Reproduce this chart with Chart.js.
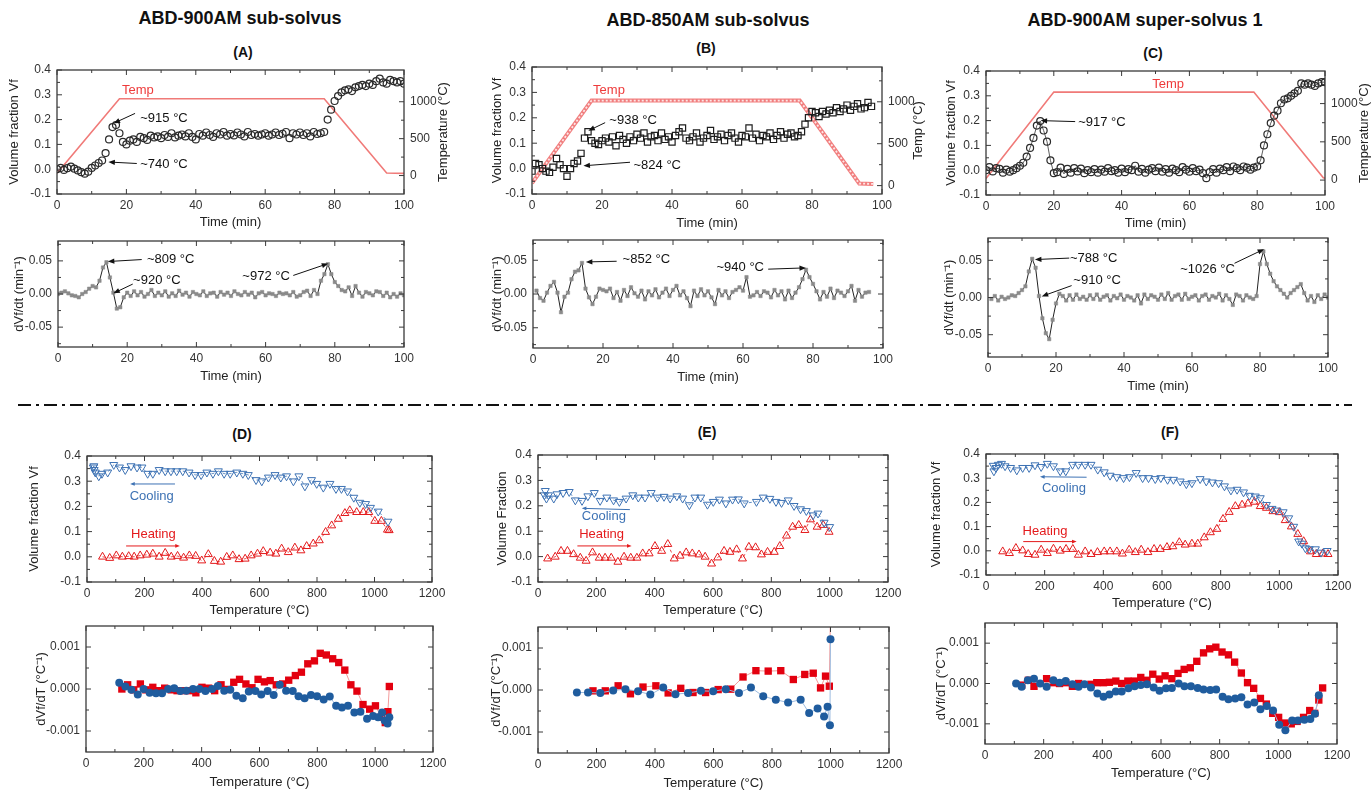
<!DOCTYPE html>
<html lang="en">
<head>
<meta charset="UTF-8">
<title>Volume fraction evolution</title>
<script src="https://cdn.jsdelivr.net/npm/chart.js"></script>
<style>
  body { margin: 0; background: #fff; font-family: "Liberation Sans", Arial, sans-serif; }
  #page { position: relative; width: 1371px; height: 791px; overflow: hidden; }
  canvas { position: absolute; }
  .head { position: absolute; transform: translate(-50%, -50%); font-weight: bold; font-size: 18px; color: #111; white-space: nowrap; }
  .tag { position: absolute; transform: translate(-50%, -50%); font-weight: bold; font-size: 14px; color: #111; }
  svg { position: absolute; left: 0; top: 0; }
</style>
</head>
<body>
<div id="page">
  <div class="head" style="left:240px;top:18px">ABD-900AM sub-solvus</div>
  <div class="head" style="left:708px;top:20px">ABD-850AM sub-solvus</div>
  <div class="head" style="left:1145px;top:20px">ABD-900AM super-solvus 1</div>
  <div class="tag" style="left:243px;top:52px">(A)</div>
  <div class="tag" style="left:706px;top:48px">(B)</div>
  <div class="tag" style="left:1153px;top:53px">(C)</div>
  <div class="tag" style="left:242px;top:434px">(D)</div>
  <div class="tag" style="left:707px;top:432px">(E)</div>
  <div class="tag" style="left:1170px;top:432px">(F)</div>
  <svg width="1371" height="791"><line x1="18" y1="405" x2="1352" y2="405" stroke="#111" stroke-width="2" stroke-dasharray="13 5 3 5"/></svg>
  <canvas id="cA1"></canvas><canvas id="cA2"></canvas>
  <canvas id="cB1"></canvas><canvas id="cB2"></canvas>
  <canvas id="cC1"></canvas><canvas id="cC2"></canvas>
  <canvas id="cD1"></canvas><canvas id="cD2"></canvas>
  <canvas id="cE1"></canvas><canvas id="cE2"></canvas>
  <canvas id="cF1"></canvas><canvas id="cF2"></canvas>
</div>

<script>
// ---------- tick labels ----------
const timeTicks = [0, 20, 40, 60, 80, 100];
const tempTicks = [0, 200, 400, 600, 800, 1000, 1200];
const vfTicks = [-0.1, 0, 0.1, 0.2, 0.3, 0.4];
const rateTicks = [-0.05, 0, 0.05];
const slopeTicks = [-0.001, 0, 0.001];
const furnaceTicks = [0, 500, 1000];

// ---------- (A) ABD-900AM sub-solvus, sampled every minute ----------
const vfA = [
  0.000, 0.005, -0.003, 0.004, 0.010, 0.002, -0.005, -0.012, -0.018, -0.010,
  0.005, 0.015, 0.025, 0.035, 0.065, 0.120, 0.170, 0.178, 0.145, 0.110,
  0.100, 0.115, 0.120, 0.110, 0.130, 0.125, 0.118, 0.135, 0.128, 0.132,
  0.125, 0.138, 0.130, 0.145, 0.128, 0.135, 0.140, 0.132, 0.145, 0.130,
  0.120, 0.142, 0.135, 0.148, 0.138, 0.130, 0.145, 0.140, 0.150, 0.135,
  0.142, 0.136, 0.148, 0.140, 0.132, 0.150, 0.138, 0.142, 0.135, 0.140,
  0.145, 0.135, 0.140, 0.148, 0.138, 0.143, 0.150, 0.125, 0.145, 0.140,
  0.148, 0.138, 0.145, 0.132, 0.150, 0.142, 0.145, 0.150, 0.200, 0.240,
  0.275, 0.295, 0.310, 0.318, 0.322, 0.315, 0.330, 0.335, 0.340, 0.335,
  0.345, 0.340, 0.355, 0.365, 0.350, 0.345, 0.360, 0.355, 0.350, 0.355, 0.345
];
const rateA = [
  0.000, 0.002, 0.004, 0.001, -0.002, -0.003, -0.005, 0.000, 0.003, 0.008,
  0.012, 0.010, 0.020, 0.040, 0.048, 0.025, 0.002, -0.022, -0.020, -0.005,
  0.002, -0.003, 0.004, -0.002, 0.003, -0.004, 0.000, 0.006, -0.003, 0.002,
  -0.002, 0.004, -0.004, 0.001, -0.003, 0.005, -0.001, 0.002, -0.004, 0.003,
  0.000, -0.002, 0.004, -0.003, 0.001, 0.002, -0.004, 0.003, -0.001, 0.002,
  -0.003, 0.004, 0.000, -0.002, 0.003, -0.001, 0.002, -0.005, 0.001, 0.003,
  -0.002, 0.001, 0.000, -0.003, 0.002, 0.000, 0.001, -0.002, 0.003, -0.004,
  -0.002, 0.003, 0.005, -0.003, 0.006, 0.000, 0.020, 0.030, 0.045, 0.030,
  0.018, 0.012, 0.006, 0.004, 0.010, -0.003, 0.012, 0.002, -0.004, 0.003,
  0.001, -0.002, 0.004, 0.003, -0.003, 0.002, -0.005, 0.000, -0.004, 0.001, -0.002
];
const furnaceA_t = [0, 18, 77, 95, 100];
const furnaceA_T = [30, 1040, 1040, 35, 30];

// ---------- (B) ABD-850AM sub-solvus ----------
const vfB = [
  -0.010, 0.020, 0.015, 0.000, -0.010, -0.015, 0.005, 0.040, 0.015, 0.000,
  -0.030, 0.000, 0.020, 0.030, 0.060, 0.120, 0.145, 0.110, 0.100, 0.095,
  0.110, 0.120, 0.105, 0.125, 0.090, 0.130, 0.115, 0.100, 0.125, 0.110,
  0.135, 0.120, 0.140, 0.105, 0.125, 0.130, 0.110, 0.140, 0.115, 0.125,
  0.105, 0.130, 0.145, 0.160, 0.120, 0.110, 0.125, 0.140, 0.105, 0.120,
  0.130, 0.150, 0.115, 0.125, 0.135, 0.110, 0.130, 0.140, 0.120, 0.105,
  0.130, 0.125, 0.160, 0.120, 0.135, 0.110, 0.130, 0.125, 0.140, 0.115,
  0.130, 0.145, 0.120, 0.135, 0.140, 0.125, 0.130, 0.145, 0.175, 0.200,
  0.225, 0.220, 0.205, 0.225, 0.215, 0.230, 0.220, 0.240, 0.225, 0.235,
  0.250, 0.230, 0.245, 0.255, 0.235, 0.240, 0.260, 0.245
];
const rateB = [
  0.005, -0.006, -0.010, 0.002, 0.012, 0.018, 0.002, -0.027, -0.004, 0.002,
  0.022, 0.033, 0.035, 0.046, 0.008, -0.005, -0.015, -0.004, 0.008, 0.006,
  0.004, 0.008, -0.006, 0.003, -0.010, 0.006, -0.003, 0.010, 0.001, -0.004,
  0.005, -0.008, 0.004, -0.002, 0.007, -0.005, 0.002, 0.008, -0.003, 0.006,
  0.012, -0.002, 0.004, -0.006, -0.018, 0.005, -0.003, 0.007, -0.002, 0.004,
  -0.005, -0.015, 0.006, -0.002, 0.004, -0.006, 0.003, 0.006, 0.010, 0.005,
  0.025, -0.004, -0.002, 0.003, -0.003, 0.004, 0.002, -0.005, 0.006, -0.002,
  0.004, -0.008, 0.005, -0.006, 0.002, 0.010, 0.022, 0.036, 0.025, 0.015,
  0.004, -0.008, 0.003, -0.004, 0.008, -0.006, 0.005, 0.002, -0.003, 0.004,
  0.012, -0.010, 0.006, -0.004, 0.002, 0.003
];
const furnaceB_t = [0, 17, 76.5, 93.5, 97.5];
const furnaceB_T = [30, 1015, 1015, 25, 20];

// ---------- (C) ABD-900AM super-solvus 1 ----------
const vfC = [
  0.000, 0.012, -0.005, 0.008, 0.005, -0.010, 0.002, -0.006, 0.000, 0.008,
  0.018, 0.030, 0.055, 0.090, 0.130, 0.180, 0.198, 0.160, 0.115, 0.040,
  -0.012, -0.008, 0.010, -0.015, 0.005, -0.010, 0.008, -0.005, 0.006, -0.012,
  0.000, -0.008, 0.004, -0.010, 0.002, -0.006, 0.008, -0.004, 0.000, -0.010,
  0.006, -0.008, 0.004, 0.000, 0.018, -0.006, 0.005, -0.010, 0.002, 0.008,
  -0.004, 0.010, -0.006, 0.004, -0.010, 0.006, 0.000, -0.008, 0.012, 0.002,
  -0.006, 0.008, -0.004, 0.002, -0.012, -0.032, -0.008, 0.004, -0.010, 0.006,
  0.000, 0.012, -0.004, 0.015, 0.008, 0.000, 0.015, 0.010, 0.002, 0.010,
  0.015, 0.040, 0.100, 0.145, 0.190, 0.220, 0.240, 0.270, 0.285, 0.290,
  0.300, 0.310, 0.320, 0.350, 0.345, 0.350, 0.345, 0.340, 0.350, 0.355, 0.355
];
const rateC = [
  -0.002, 0.002, -0.004, 0.001, -0.002, 0.000, 0.003, 0.002, 0.006, 0.010,
  0.015, 0.035, 0.052, 0.040, 0.002, -0.028, -0.048, -0.056, -0.030, -0.008,
  0.005, 0.002, -0.004, 0.003, -0.003, 0.004, -0.002, 0.001, -0.003, 0.003,
  -0.002, 0.004, -0.003, 0.001, 0.003, -0.004, 0.002, -0.001, 0.004, -0.003,
  0.002, 0.000, -0.004, 0.003, -0.008, 0.004, -0.002, 0.003, 0.001, -0.003,
  0.004, -0.002, 0.006, -0.003, 0.002, 0.004, -0.003, 0.005, -0.002, 0.001,
  0.003, -0.004, 0.002, 0.004, -0.003, 0.002, 0.000, 0.005, -0.004, 0.003,
  -0.002, -0.010, 0.004, 0.002, -0.004, 0.003, 0.000, -0.002, 0.002, 0.045,
  0.062, 0.045, 0.032, 0.022, 0.015, 0.010, 0.005, 0.000, 0.006, 0.010,
  0.014, 0.018, 0.006, -0.004, 0.002, -0.006, 0.003, -0.002, 0.004, 0.000
];
const furnaceC_t = [0, 20, 79, 99.5, 100];
const furnaceC_T = [20, 1150, 1150, 30, 25];

// ---------- (D) ----------
const coolD_T = [22, 24, 25, 29, 41, 52, 72, 93, 113, 133, 153, 174, 191, 211, 229, 251, 272, 292, 312, 333, 355, 376, 397, 417, 438, 457, 477, 498, 521, 542, 561, 588, 608, 631, 654, 674, 694, 718, 737, 758, 781, 799, 822, 845, 866, 885, 906, 928, 949, 969, 986, 1013, 1047];
const coolD_vf = [0.355, 0.360, 0.345, 0.335, 0.320, 0.330, 0.335, 0.365, 0.355, 0.345, 0.360, 0.355, 0.355, 0.330, 0.330, 0.345, 0.340, 0.340, 0.340, 0.340, 0.335, 0.325, 0.325, 0.335, 0.330, 0.340, 0.330, 0.330, 0.335, 0.330, 0.325, 0.305, 0.300, 0.315, 0.325, 0.315, 0.320, 0.300, 0.320, 0.280, 0.305, 0.290, 0.275, 0.290, 0.270, 0.270, 0.260, 0.235, 0.215, 0.210, 0.195, 0.180, 0.140];
const heatD_T = [54, 79, 102, 123, 145, 164, 185, 208, 229, 251, 272, 293, 315, 336, 356, 378, 399, 422, 443, 465, 486, 507, 529, 550, 571, 593, 613, 637, 657, 677, 700, 723, 744, 764, 787, 808, 830, 851, 874, 897, 914, 938, 961, 980, 1001, 1024, 1045, 1051];
const heatD_vf = [0.000, -0.005, 0.005, 0.000, 0.002, 0.000, 0.005, 0.008, 0.012, 0.000, 0.015, 0.000, 0.003, -0.004, 0.005, 0.003, -0.015, 0.010, -0.017, -0.020, -0.001, 0.005, -0.010, -0.008, 0.005, 0.012, 0.022, 0.016, 0.012, 0.032, 0.018, 0.036, 0.025, 0.042, 0.052, 0.065, 0.098, 0.124, 0.150, 0.173, 0.184, 0.177, 0.177, 0.177, 0.142, 0.142, 0.107, 0.105];
const heatD2_T = [124, 144, 165, 188, 207, 231, 251, 272, 295, 315, 338, 358, 380, 401, 424, 445, 467, 488, 511, 531, 553, 574, 595, 617, 637, 658, 680, 701, 724, 745, 767, 790, 810, 831, 853, 874, 895, 916, 937, 958, 981, 1001, 1021, 1035, 1044, 1049];
const heatD2_s = [0.0, 0.0001, -0.00002, 0.00012, -0.00002, 0.00004, -0.00004, 0.00002, -0.00002, -0.00004, -0.00004, -0.00004, -0.00009, 0.00004, 0.00002, -0.00004, 0.0001, -0.00001, 0.00016, 0.00023, 0.00012, 0.00003, 0.00023, 0.00017, 0.0002, 0.0001, 0.00012, 0.00021, 0.00032, 0.0004, 0.0006, 0.00067, 0.00085, 0.00081, 0.00072, 0.00063, 0.00045, 0.0001, -0.00005, -0.00037, -0.00048, -0.0004, -0.00067, -0.0008, -0.00054, 0.00006];
const coolD2_T = [115, 136, 157, 179, 199, 220, 242, 263, 284, 305, 326, 347, 370, 392, 413, 436, 456, 478, 499, 520, 542, 563, 586, 606, 628, 649, 670, 692, 715, 735, 756, 778, 799, 822, 843, 865, 885, 906, 928, 949, 972, 993, 1010, 1024, 1033, 1043, 1049];
const coolD2_s = [0.00015, 0.00006, -0.00002, -0.00013, 0.0, -0.00009, -0.0001, -0.0001, 0.0, 0.00002, -0.00005, -0.00004, 0.0, 0.0, -0.00005, 0.0, 0.00007, -0.00004, -0.00002, -0.00016, -0.00022, -0.00006, -0.00005, -0.00013, -0.00005, -0.00014, 0.0001, -0.00004, -0.00005, -0.00017, -0.00022, -0.00014, -0.00017, -0.00025, -0.00018, -0.0004, -0.00044, -0.0004, -0.00056, -0.00054, -0.00071, -0.00064, -0.00067, -0.00056, -0.00075, -0.00082, -0.00067];

// ---------- (E) ----------
const coolE_T = [22, 25, 29, 36, 54, 65, 86, 107, 128, 151, 171, 193, 213, 236, 259, 279, 302, 325, 344, 367, 388, 409, 432, 453, 476, 496, 519, 538, 558, 581, 601, 622, 644, 667, 687, 707, 749, 772, 795, 816, 835, 858, 878, 900, 920, 943, 960, 981, 1000];
const coolE_vf = [0.242, 0.259, 0.229, 0.242, 0.229, 0.246, 0.251, 0.255, 0.222, 0.220, 0.238, 0.251, 0.220, 0.233, 0.222, 0.216, 0.229, 0.242, 0.233, 0.233, 0.251, 0.233, 0.236, 0.229, 0.238, 0.229, 0.203, 0.233, 0.233, 0.205, 0.216, 0.225, 0.210, 0.225, 0.226, 0.210, 0.216, 0.233, 0.228, 0.216, 0.212, 0.222, 0.200, 0.187, 0.180, 0.163, 0.170, 0.134, 0.117];
const heatE_T = [33, 59, 79, 101, 122, 145, 165, 187, 210, 230, 251, 274, 295, 318, 339, 359, 381, 401, 424, 445, 467, 487, 508, 529, 552, 573, 595, 616, 638, 658, 681, 701, 723, 746, 766, 787, 810, 829, 852, 873, 894, 915, 934, 957, 978, 998];
const heatE_vf = [-0.008, -0.001, 0.022, 0.022, 0.009, -0.005, -0.017, 0.016, -0.005, -0.005, -0.005, -0.021, -0.001, -0.005, -0.005, 0.012, 0.012, 0.041, 0.022, 0.049, -0.008, 0.003, 0.016, 0.012, 0.008, -0.001, -0.028, -0.004, 0.022, 0.018, 0.028, -0.008, 0.038, 0.036, 0.008, 0.018, 0.018, 0.041, 0.082, 0.117, 0.124, 0.104, 0.146, 0.117, 0.124, 0.097];
const heatE2_T = [188, 230, 274, 316, 359, 403, 445, 488, 530, 573, 616, 659, 701, 745, 787, 830, 873, 912, 941, 966, 983, 996, 1000];
const heatE2_s = [-0.00002, -0.00002, 0.0001, -0.00009, 0.00007, 0.0001, -0.00007, 0.00004, -0.00006, -0.00006, 0.00001, 0.00002, 0.00031, 0.00046, 0.00045, 0.00046, 0.00025, 0.00037, 0.0004, 0.00005, 0.00033, 0.00009, 0.0019];
const coolE2_T = [133, 171, 213, 257, 299, 342, 384, 428, 470, 513, 557, 599, 642, 687, 728, 770, 813, 855, 898, 927, 956, 978, 990, 998, 1000];
const coolE2_s = [-0.00006, -0.00006, -0.00007, -0.00001, 0.00002, -0.00003, -0.00011, 0.00006, -0.0001, -0.00007, -0.00002, -0.00003, 0.00002, -0.00007, 0.00006, -0.00015, -0.00023, -0.0003, -0.00023, -0.00055, -0.00044, -0.00063, -0.0004, -0.00084, 0.00121];

// ---------- (F) ----------
const coolF_T = [25, 27, 34, 42, 53, 65, 84, 105, 125, 147, 167, 188, 209, 230, 253, 272, 295, 315, 338, 358, 381, 403, 423, 446, 469, 489, 512, 534, 554, 577, 596, 619, 639, 662, 683, 702, 730, 751, 772, 793, 813, 835, 856, 878, 898, 918, 935, 956, 975, 992, 1013, 1032, 1049, 1066, 1077, 1089, 1102, 1123, 1142, 1163];
const coolF_vf = [0.352, 0.329, 0.343, 0.356, 0.360, 0.350, 0.343, 0.333, 0.343, 0.343, 0.354, 0.347, 0.360, 0.350, 0.329, 0.329, 0.356, 0.356, 0.356, 0.356, 0.336, 0.325, 0.311, 0.305, 0.301, 0.305, 0.322, 0.301, 0.301, 0.297, 0.301, 0.294, 0.294, 0.287, 0.276, 0.280, 0.297, 0.287, 0.283, 0.280, 0.267, 0.250, 0.253, 0.242, 0.228, 0.225, 0.218, 0.190, 0.174, 0.167, 0.160, 0.135, 0.100, 0.039, 0.030, 0.011, 0.007, 0.007, -0.007, 0.000];
const heatF_T = [57, 80, 102, 125, 144, 167, 188, 209, 230, 253, 273, 296, 315, 338, 358, 380, 403, 423, 446, 465, 488, 509, 529, 552, 573, 594, 617, 637, 659, 679, 702, 722, 744, 765, 787, 808, 829, 850, 873, 893, 915, 935, 956, 978, 1000, 1020, 1041, 1063, 1083, 1106, 1126, 1148, 1166];
const heatF_vf = [-0.003, -0.010, 0.011, 0.001, -0.014, -0.017, 0.004, -0.010, 0.008, 0.000, 0.007, 0.007, -0.017, -0.003, -0.014, -0.006, -0.003, -0.003, -0.003, -0.012, 0.004, -0.006, 0.004, -0.006, 0.007, 0.007, 0.015, 0.018, 0.035, 0.025, 0.029, 0.029, 0.055, 0.076, 0.090, 0.131, 0.160, 0.184, 0.190, 0.195, 0.202, 0.184, 0.177, 0.163, 0.159, 0.126, 0.100, 0.069, 0.039, -0.003, -0.014, -0.012, -0.014];
const heatF2_T = [125, 148, 167, 210, 233, 254, 275, 298, 319, 361, 381, 404, 424, 446, 466, 487, 509, 531, 552, 572, 594, 614, 637, 658, 679, 700, 722, 745, 766, 787, 808, 830, 851, 874, 895, 916, 939, 959, 981, 1001, 1022, 1044, 1064, 1086, 1107, 1124, 1138, 1151];
const heatF2_s = [-0.00004, 0.00008, -0.00007, 0.00012, 0.00002, 0.0, 0.00002, -0.00007, 0.0, -0.00002, 0.00002, 0.00002, 0.00003, 0.00006, 0.0, 0.00006, 0.00006, 0.00015, 0.00008, 0.00023, 0.00011, 0.00019, 0.00012, 0.00025, 0.00035, 0.00039, 0.00055, 0.00076, 0.00086, 0.0009, 0.00078, 0.00071, 0.00053, 0.00026, 0.00002, -0.00012, -0.00037, -0.00051, -0.00074, -0.00084, -0.00098, -0.001, -0.00094, -0.00084, -0.00067, -0.00074, -0.00041, -0.00011];
const coolF2_T = [106, 125, 146, 167, 188, 210, 233, 254, 275, 298, 319, 339, 361, 383, 404, 424, 446, 466, 489, 510, 531, 552, 575, 595, 617, 637, 660, 680, 702, 725, 745, 768, 788, 810, 830, 853, 874, 895, 918, 939, 961, 982, 1003, 1024, 1047, 1067, 1089, 1109, 1125, 1138];
const coolF2_s = [0.0, -0.00008, 0.00008, 0.00012, 0.0, -0.00008, 0.00008, 0.00002, 0.00006, -0.00002, -0.00008, -0.00002, -0.0001, -0.00025, -0.00033, -0.00027, -0.0002, -0.0002, -0.00012, -0.00007, -0.00004, -0.00002, -0.0001, -0.00018, -0.00012, -0.00011, 0.0, -0.00007, -0.00007, -0.00011, -0.00015, -0.00016, -0.00015, -0.00033, -0.00039, -0.00037, -0.00034, -0.00052, -0.00047, -0.00064, -0.00056, -0.00067, -0.00102, -0.00116, -0.00092, -0.00092, -0.0009, -0.00088, -0.00075, -0.00029];

// ---------- helpers ----------
const RED = '#e41a1c', BLUE = '#3d72b4', TEMP = '#f07a78';
const pairs = (xs, ys) => xs.map((x, i) => ({ x, y: ys[i] }));
const sampled = (vals, t0, dt) => vals.map((v, i) => ({ x: t0 + i * dt, y: v }));

Chart.defaults.font.family = '"Liberation Sans", Arial, sans-serif';
Chart.defaults.color = '#333';

function arrow(ctx, x1, y1, x2, y2, color, head) {
  const a = Math.atan2(y2 - y1, x2 - x1);
  ctx.strokeStyle = color; ctx.fillStyle = color; ctx.lineWidth = 1;
  ctx.beginPath(); ctx.moveTo(x1, y1);
  ctx.lineTo(x2 - Math.cos(a) * head * 0.7, y2 - Math.sin(a) * head * 0.7); ctx.stroke();
  ctx.beginPath(); ctx.moveTo(x2, y2);
  ctx.lineTo(x2 - head * Math.cos(a - 0.38), y2 - head * Math.sin(a - 0.38));
  ctx.lineTo(x2 - head * Math.cos(a + 0.38), y2 - head * Math.sin(a + 0.38));
  ctx.closePath(); ctx.fill();
}

const framePlugin = {
  id: 'frame',
  afterDatasetsDraw(chart, args, opts) {
    const { ctx, chartArea: a, scales } = chart;
    const rs = scales.y2 || scales.y;
    const marks = s => {
      const v = s.ticks.map(t => t.value);
      const out = v.map(p => [s.getPixelForValue(p), 5]);
      const step = v[1] - v[0];
      for (let k = -1; k < v.length; k++) {
        const m = v[0] + (k + 0.5) * step;
        if (m > s.min && m < s.max) out.push([s.getPixelForValue(m), 3]);
      }
      return out;
    };
    ctx.save();
    ctx.strokeStyle = '#3a3a3a';
    ctx.lineWidth = 1;
    ctx.beginPath();
    marks(scales.x).forEach(([p, n]) => {
      ctx.moveTo(p, a.bottom); ctx.lineTo(p, a.bottom - n);
      ctx.moveTo(p, a.top); ctx.lineTo(p, a.top + n);
    });
    marks(scales.y).forEach(([p, n]) => { ctx.moveTo(a.left, p); ctx.lineTo(a.left + n, p); });
    marks(rs).forEach(([p, n]) => { ctx.moveTo(a.right, p); ctx.lineTo(a.right - n, p); });
    ctx.stroke();
    ctx.lineWidth = 1.3;
    ctx.strokeRect(a.left, a.top, a.right - a.left, a.bottom - a.top);
    if (opts.rightTitle) {
      ctx.translate(chart.width - 7.8, (a.top + a.bottom) / 2);
      ctx.rotate(-Math.PI / 2);
      ctx.fillStyle = '#222';
      ctx.font = '13px "Liberation Sans", Arial, sans-serif';
      ctx.textAlign = 'center'; ctx.textBaseline = 'middle';
      ctx.fillText(opts.rightTitle, 0, 0);
    }
    ctx.restore();
  }
};

const notesPlugin = {
  id: 'notes',
  afterDatasetsDraw(chart, args, opts) {
    const { ctx, scales: { x, y } } = chart;
    ctx.save();
    (opts.arrows || []).forEach(r => arrow(ctx, x.getPixelForValue(r[0]), y.getPixelForValue(r[1]),
      x.getPixelForValue(r[2]), y.getPixelForValue(r[3]), r[4] || '#111', r[5] || 7));
    ctx.font = '13px "Liberation Sans", Arial, sans-serif';
    ctx.textBaseline = 'middle';
    (opts.labels || []).forEach(t => {
      ctx.fillStyle = t.color || '#111';
      ctx.textAlign = t.align || 'left';
      ctx.fillText(t.text, x.getPixelForValue(t.x), y.getPixelForValue(t.y));
    });
    ctx.restore();
  }
};

// plot-area boxes
const boxes = {
  cA1: { l: 57, t: 70, r: 404, b: 194, yTitle: 15, xTitle: 221.7, rTitle: 443 },
  cA2: { l: 58, t: 241, r: 404, b: 347, yTitle: 20, xTitle: 376 },
  cB1: { l: 532, t: 67, r: 882, b: 194, yTitle: 498, xTitle: 222.7, rTitle: 918 },
  cB2: { l: 533, t: 240, r: 883, b: 348, yTitle: 498, xTitle: 377 },
  cC1: { l: 986, t: 71, r: 1325, b: 195, yTitle: 951.7, xTitle: 222.7, rTitle: 1364 },
  cC2: { l: 988, t: 238, r: 1328, b: 357, yTitle: 950, xTitle: 386 },
  cD1: { l: 87, t: 456, r: 432, b: 582, yTitle: 35, xTitle: 610 },
  cD2: { l: 86, t: 626, r: 433, b: 752, yTitle: 41.7, xTitle: 782 },
  cE1: { l: 538, t: 455, r: 888, b: 582, yTitle: 503, xTitle: 610 },
  cE2: { l: 538, t: 627, r: 889, b: 753, yTitle: 496.7, xTitle: 783 },
  cF1: { l: 986, t: 454, r: 1338, b: 575, yTitle: 936.7, xTitle: 603 },
  cF2: { l: 985, t: 623, r: 1337, b: 744, yTitle: 941.7, xTitle: 773 }
};

function build(id, spec) {
  const L = boxes[id];
  const cv = document.getElementById(id);
  const left = Math.round(L.yTitle - 7.8), top = Math.round(L.t - 8);
  const right = Math.round(L.rTitle ? L.rTitle + 7.8 : L.r + 22);
  const bottom = Math.round(L.xTitle + 7.8);
  cv.width = right - left; cv.height = bottom - top;
  cv.style.left = left + 'px'; cv.style.top = top + 'px';
  const padL = L.l - left, padT = L.t - top, padR = right - L.r, padB = bottom - L.b;

  const fixTicks = vals => s => { s.ticks = vals.map(v => ({ value: v })); };
  const scales = {
    x: {
      type: 'linear', position: 'bottom', min: spec.x.min, max: spec.x.max,
      afterBuildTicks: fixTicks(spec.x.ticks),
      afterFit: s => { s.height = padB; s.paddingLeft = 0; s.paddingRight = 0; },
      grid: { display: false, drawTicks: false }, border: { display: false },
      ticks: { padding: 4, color: '#333', font: { size: 12 }, maxRotation: 0, autoSkip: false, callback: v => String(v) },
      title: { display: true, text: spec.x.title, color: '#222', font: { size: 13 }, padding: 0 }
    },
    y: {
      type: 'linear', position: 'left', min: spec.y.min, max: spec.y.max,
      afterBuildTicks: fixTicks(spec.y.ticks),
      afterFit: s => { s.width = padL; s.paddingTop = 0; s.paddingBottom = 0; },
      grid: { display: false, drawTicks: false }, border: { display: false },
      ticks: { padding: 6, color: '#333', font: { size: 12 }, autoSkip: false, callback: v => Number(v).toFixed(spec.y.dec) },
      title: { display: true, text: spec.y.title, color: '#222', font: { size: 13 }, padding: 0 }
    }
  };
  if (spec.y2) {
    scales.y2 = {
      type: 'linear', position: 'right', min: spec.y2.min, max: spec.y2.max,
      afterBuildTicks: fixTicks(furnaceTicks),
      afterFit: s => { s.width = padR; s.paddingTop = 0; s.paddingBottom = 0; },
      grid: { display: false, drawTicks: false }, border: { display: false },
      ticks: { padding: 6, color: '#333', font: { size: 12 }, autoSkip: false, callback: v => String(v) },
      title: { display: false }
    };
  }
  new Chart(cv, {
    type: 'line',
    data: { datasets: spec.datasets },
    options: {
      responsive: false, animation: false,
      layout: { padding: { top: padT, right: spec.y2 ? 0 : padR, left: 0, bottom: 0 } },
      plugins: {
        legend: { display: false }, tooltip: { enabled: false },
        frame: { rightTitle: spec.y2 ? spec.y2.title : null },
        notes: spec.notes || {}
      },
      scales
    },
    plugins: [framePlugin, notesPlugin]
  });
}

// dataset styles
const openCircles = (data, line) => ({ data, showLine: !!line, borderColor: '#333', borderWidth: line ? 0.8 : 1,
  pointStyle: 'circle', pointRadius: 3.5, pointBorderColor: '#2a2a2a', pointBorderWidth: 1.2, pointBackgroundColor: 'rgba(0,0,0,0)' });
const openSquares = data => ({ data, showLine: false, pointStyle: 'rect', pointRadius: 4.4,
  pointBorderColor: '#1e1e1e', pointBorderWidth: 1.2, pointBackgroundColor: 'rgba(0,0,0,0)' });
const furnace = (data, w, c, dash) => ({ data, yAxisID: 'y2', borderColor: c || TEMP, borderWidth: w || 1.6,
  borderDash: dash || [], pointRadius: 0 });
const rateLine = data => ({ data, borderColor: '#222', borderWidth: 1, pointStyle: 'rect', pointRadius: 2.4,
  pointBackgroundColor: '#8a8a8a', pointBorderColor: '#8a8a8a', pointBorderWidth: 0.5 });
const triangles = (data, color, down) => ({ data, borderColor: color, borderWidth: 0.8, borderDash: [3, 3],
  pointStyle: 'triangle', pointRotation: down ? 180 : 0, pointRadius: 4.6, pointBorderColor: color,
  pointBorderWidth: 1, pointBackgroundColor: 'rgba(0,0,0,0)' });
const redSquares = data => ({ data, borderColor: '#f39a9a', borderWidth: 1, pointStyle: 'rect', pointRadius: 5.2,
  pointBackgroundColor: '#e3000f', pointBorderColor: '#e3000f', pointBorderWidth: 0 });
const blueDots = data => ({ data, borderColor: '#9dbbdf', borderWidth: 1, pointStyle: 'circle', pointRadius: 4,
  pointBackgroundColor: '#1f5c9e', pointBorderColor: '#1f5c9e', pointBorderWidth: 0 });

const timeX = { min: 0, max: 100, ticks: timeTicks, title: 'Time (min)' };
const tempX = { min: 0, max: 1200, ticks: tempTicks, title: 'Temperature (°C)' };
const vfY = t => ({ min: -0.1, max: 0.4, ticks: vfTicks, dec: 1, title: t });
const rateY = { min: -0.08, max: 0.08, ticks: rateTicks, dec: 2, title: 'dVf/dt (min⁻¹)' };
const slopeY = { min: -0.0015, max: 0.0015, ticks: slopeTicks, dec: 3, title: 'dVf/dT (°C⁻¹)' };

// ---------- (A) ----------
build('cA1', {
  x: timeX, y: vfY('Volume fraction Vf'),
  y2: { min: -250, max: 1430, title: 'Temperature (°C)' },
  datasets: [openCircles(sampled(vfA, 0, 1)), furnace(pairs(furnaceA_t, furnaceA_T))],
  notes: {
    labels: [{ x: 23.3, y: 0.319, text: 'Temp', align: 'center', color: '#ee3b3b' },
      { x: 24, y: 0.206, text: '~915 °C' }, { x: 24, y: 0.021, text: '~740 °C' }],
    arrows: [[22.5, 0.225, 16.3, 0.185], [23, 0.023, 14.8, 0.029]]
  }
});
build('cA2', {
  x: timeX, y: rateY,
  datasets: [rateLine(sampled(rateA, 0, 1))],
  notes: {
    labels: [{ x: 25.7, y: 0.0515, text: '~809 °C' }, { x: 21.7, y: 0.021, text: '~920 °C' },
      { x: 67, y: 0.0266, text: '~972 °C', align: 'right' }],
    arrows: [[24.2, 0.052, 14.4, 0.049], [21.6, 0.015, 16, 0.001], [68, 0.028, 78.1, 0.046]]
  }
});

// ---------- (B) ----------
build('cB1', {
  x: timeX, y: vfY('Volume fraction Vf'),
  y2: { min: -100, max: 1415, title: 'Temp (°C)' },
  datasets: [openSquares(sampled(vfB, 0, 1)),
    furnace(pairs(furnaceB_t, furnaceB_T), 1.8, '#fde6e6', [2, 2]),
    furnace(pairs(furnaceB_t, furnaceB_T), 4, 'rgba(240,112,112,0.9)')],
  notes: {
    labels: [{ x: 22, y: 0.309, text: 'Temp', align: 'center', color: '#ee3b3b' },
      { x: 22.1, y: 0.191, text: '~938 °C' }, { x: 29, y: 0.014, text: '~824 °C' }],
    arrows: [[20.9, 0.181, 16.1, 0.149], [28, 0.025, 14.7, 0.011]]
  }
});
build('cB2', {
  x: timeX, y: rateY,
  datasets: [rateLine(sampled(rateB, 1, 1))],
  notes: {
    labels: [{ x: 25.6, y: 0.051, text: '~852 °C' }, { x: 66, y: 0.04, text: '~940 °C', align: 'right' }],
    arrows: [[23.9, 0.0485, 15.1, 0.0475], [67.2, 0.0368, 78, 0.0387]]
  }
});

// ---------- (C) ----------
build('cC1', {
  x: timeX, y: vfY('Volume fraction Vf'),
  y2: { min: -195, max: 1426, title: 'Temperature (°C)' },
  datasets: [openCircles(sampled(vfC, 0, 1), true), furnace(pairs(furnaceC_t, furnaceC_T))],
  notes: {
    labels: [{ x: 53.7, y: 0.344, text: 'Temp', align: 'center', color: '#ee3b3b' },
      { x: 27.2, y: 0.192, text: '~917 °C' }],
    arrows: [[26.3, 0.196, 16.1, 0.2]]
  }
});
build('cC2', {
  x: timeX, y: rateY,
  datasets: [rateLine(sampled(rateC, 1, 1))],
  notes: {
    labels: [{ x: 24.1, y: 0.0523, text: '~788 °C' }, { x: 25.1, y: 0.023, text: '~910 °C' },
      { x: 72.6, y: 0.0374, text: '~1026 °C', align: 'right' }],
    arrows: [[23.9, 0.053, 13.8, 0.051], [24.6, 0.016, 15.8, 0.0015], [72.5, 0.046, 81.2, 0.065]]
  }
});

// ---------- (D) (E) (F) ----------
build('cD1', {
  x: tempX, y: vfY('Volume fraction Vf'),
  datasets: [triangles(pairs(coolD_T, coolD_vf), BLUE, true), triangles(pairs(heatD_T, heatD_vf), RED, false)],
  notes: {
    labels: [{ x: 225, y: 0.24, text: 'Cooling', align: 'center', color: BLUE },
      { x: 231, y: 0.09, text: 'Heating', align: 'center', color: RED }],
    arrows: [[306, 0.289, 150, 0.289, BLUE, 5], [136, 0.043, 323, 0.043, RED, 5]]
  }
});
build('cD2', {
  x: tempX, y: slopeY,
  datasets: [blueDots(pairs(coolD2_T, coolD2_s)), redSquares(pairs(heatD2_T, heatD2_s))]
});
build('cE1', {
  x: tempX, y: vfY('Volume Fraction'),
  datasets: [triangles(pairs(coolE_T, coolE_vf), BLUE, true), triangles(pairs(heatE_T, heatE_vf), RED, false)],
  notes: {
    labels: [{ x: 226, y: 0.157, text: 'Cooling', align: 'center', color: BLUE },
      { x: 218, y: 0.089, text: 'Heating', align: 'center', color: RED }],
    arrows: [[315, 0.185, 150, 0.19, BLUE, 5], [135, 0.042, 321, 0.042, RED, 5]]
  }
});
build('cE2', {
  x: tempX, y: slopeY,
  datasets: [blueDots(pairs(coolE2_T, coolE2_s)), redSquares(pairs(heatE2_T, heatE2_s))]
});
build('cF1', {
  x: tempX, y: vfY('Volume fraction Vf'),
  datasets: [triangles(pairs(coolF_T, coolF_vf), BLUE, true), triangles(pairs(heatF_T, heatF_vf), RED, false)],
  notes: {
    labels: [{ x: 266, y: 0.258, text: 'Cooling', align: 'center', color: BLUE },
      { x: 201, y: 0.079, text: 'Heating', align: 'center', color: RED }],
    arrows: [[343, 0.304, 184, 0.306, BLUE, 5], [127, 0.038, 309, 0.038, RED, 5]]
  }
});
build('cF2', {
  x: tempX, y: slopeY,
  datasets: [blueDots(pairs(coolF2_T, coolF2_s)), redSquares(pairs(heatF2_T, heatF2_s))]
});
</script>
</body>
</html>
